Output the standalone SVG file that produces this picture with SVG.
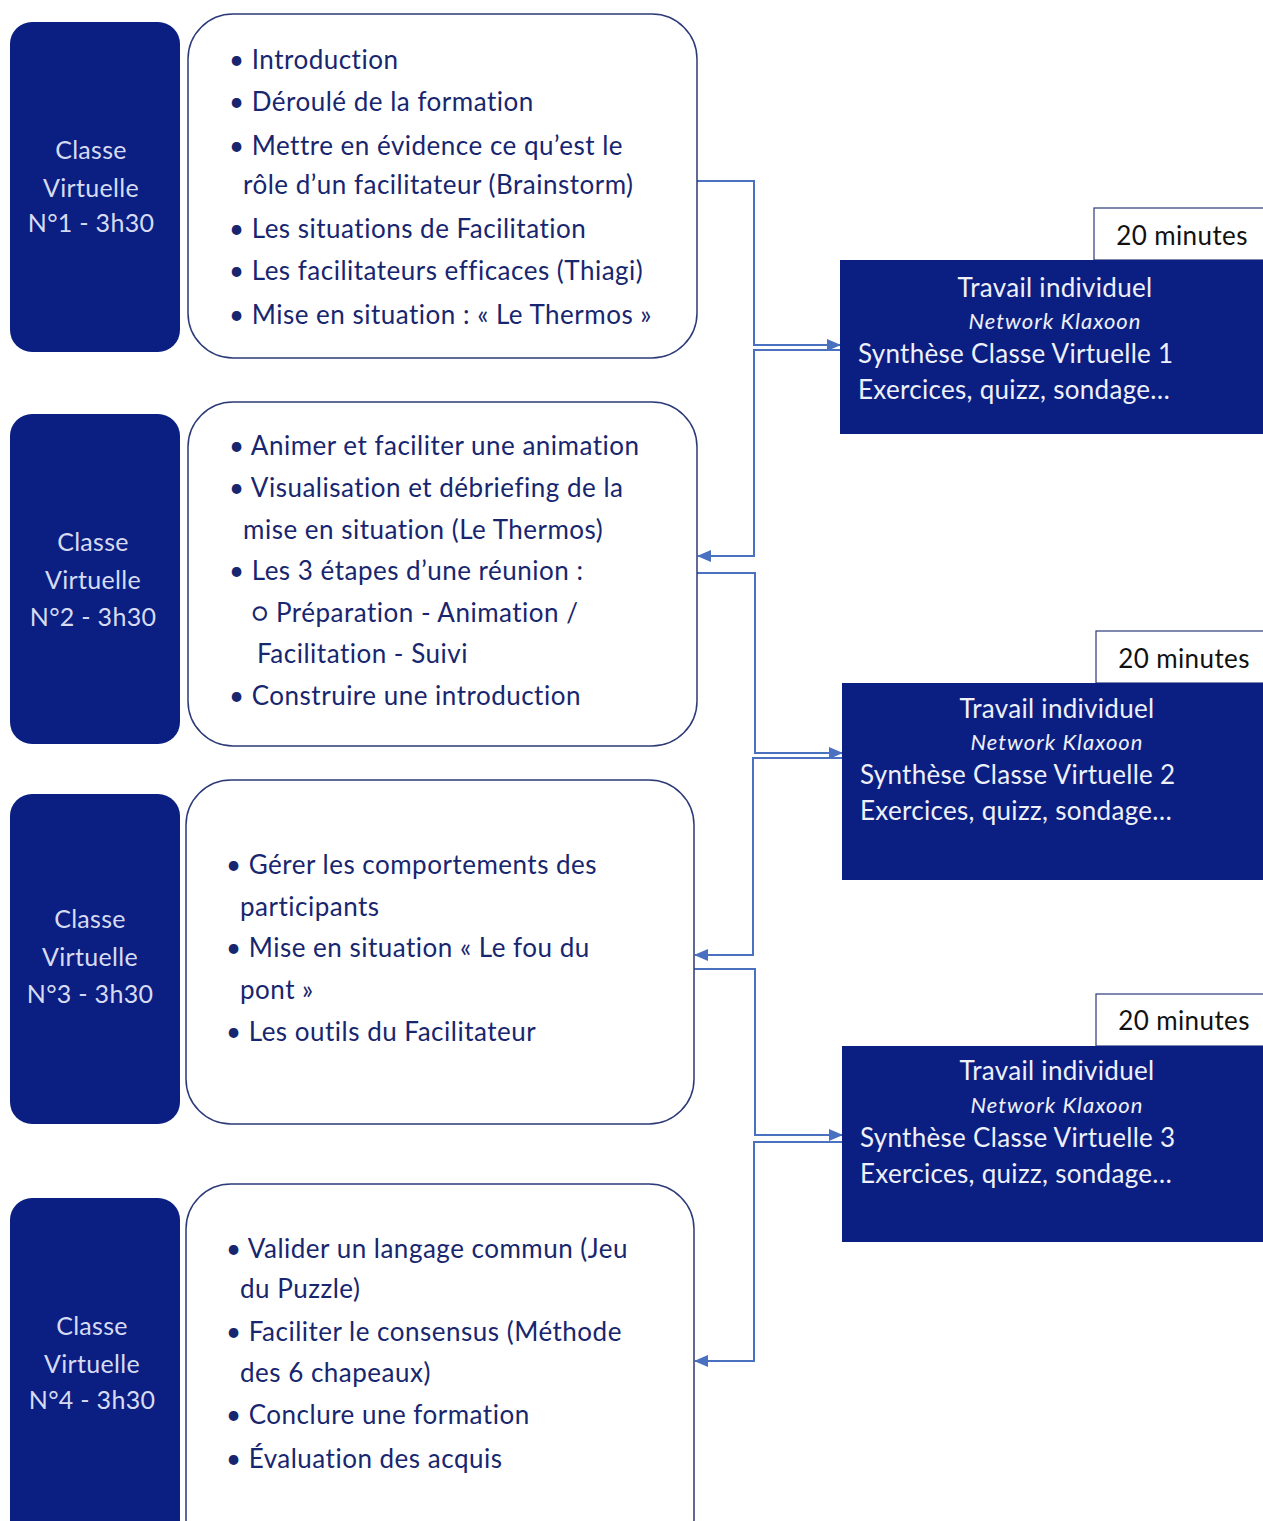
<svg xmlns="http://www.w3.org/2000/svg" width="1263" height="1521" viewBox="0 0 1263 1521">
<defs>
<style>
.dk{fill:#0b1f82;}
.wb{fill:#ffffff;stroke:#2c3a78;stroke-width:1.5;}
.lt{font-family:Lato,"Liberation Sans",sans-serif;font-size:25px;letter-spacing:0.3px;fill:#d6dbf2;text-anchor:middle;}
.bt{font-family:Lato,"Liberation Sans",sans-serif;font-size:26px;letter-spacing:0.5px;fill:#17266e;}
.rt{font-family:Lato,"Liberation Sans",sans-serif;font-size:26px;letter-spacing:0.3px;fill:#eef0fa;}
.it{font-family:Lato,"Liberation Sans",sans-serif;font-size:22px;letter-spacing:1px;font-style:italic;fill:#eef0fa;text-anchor:middle;}
.tab{fill:#ffffff;stroke:#2c3a78;stroke-width:1.2;}
.tt{font-family:Lato,"Liberation Sans",sans-serif;font-size:26px;letter-spacing:0.4px;fill:#111111;text-anchor:middle;}
.cn{fill:none;stroke:#4a70c0;stroke-width:2;}
</style>
<marker id="ah" viewBox="0 0 14 12" refX="13" refY="6" markerWidth="14" markerHeight="12" markerUnits="userSpaceOnUse" orient="auto">
<path d="M0,0 L14,6 L0,12 Z" fill="#4a70c0"/>
</marker>
</defs>
<rect width="1263" height="1521" fill="#ffffff"/>

<g id="connectors">
<path class="cn" d="M697,181 H754 V345 H840" marker-end="url(#ah)"/>
<path class="cn" d="M840,350 H754 V556 H698" marker-end="url(#ah)"/>
<path class="cn" d="M697,573 H755 V753 H842" marker-end="url(#ah)"/>
<path class="cn" d="M842,758 H753 V955 H695" marker-end="url(#ah)"/>
<path class="cn" d="M694,969 H755 V1135 H842" marker-end="url(#ah)"/>
<path class="cn" d="M842,1142 H754 V1361 H695" marker-end="url(#ah)"/>
</g>

<g id="cv1">
<rect class="dk" x="10" y="22" width="170" height="330" rx="22"/>
<text class="lt" x="91" y="159">Classe</text>
<text class="lt" x="91" y="197">Virtuelle</text>
<text class="lt" x="91" y="232">N°1 - 3h30</text>
</g>
<g id="content1">
<rect class="wb" x="188" y="14" width="509" height="344" rx="45"/>
<text class="bt" x="229" y="69">• Introduction</text>
<text class="bt" x="229" y="111">• Déroulé de la formation</text>
<text class="bt" x="229" y="155">• Mettre en évidence ce qu’est le</text>
<text class="bt" x="243" y="194">rôle d’un facilitateur (Brainstorm)</text>
<text class="bt" x="229" y="238">• Les situations de Facilitation</text>
<text class="bt" x="229" y="280">• Les facilitateurs efficaces (Thiagi)</text>
<text class="bt" x="229" y="324">• Mise en situation : « Le Thermos »</text>
</g>

<g id="cv2">
<rect class="dk" x="10" y="414" width="170" height="330" rx="22"/>
<text class="lt" x="93" y="551">Classe</text>
<text class="lt" x="93" y="589">Virtuelle</text>
<text class="lt" x="93" y="626">N°2 - 3h30</text>
</g>
<g id="content2">
<rect class="wb" x="188" y="402" width="509" height="344" rx="45"/>
<text class="bt" x="229" y="455">• Animer et faciliter une animation</text>
<text class="bt" x="229" y="497">• Visualisation et débriefing de la</text>
<text class="bt" x="243" y="539">mise en situation (Le Thermos)</text>
<text class="bt" x="229" y="580">• Les 3 étapes d’une réunion :</text>
<text class="bt" x="251" y="622">○ Préparation - Animation /</text>
<text class="bt" x="257" y="663">Facilitation - Suivi</text>
<text class="bt" x="229" y="705">• Construire une introduction</text>
</g>

<g id="cv3">
<rect class="dk" x="10" y="794" width="170" height="330" rx="22"/>
<text class="lt" x="90" y="928">Classe</text>
<text class="lt" x="90" y="966">Virtuelle</text>
<text class="lt" x="90" y="1003">N°3 - 3h30</text>
</g>
<g id="content3">
<rect class="wb" x="186" y="780" width="508" height="344" rx="45"/>
<text class="bt" x="226" y="874">• Gérer les comportements des</text>
<text class="bt" x="240" y="916">participants</text>
<text class="bt" x="226" y="957">• Mise en situation « Le fou du</text>
<text class="bt" x="240" y="999">pont »</text>
<text class="bt" x="226" y="1041">• Les outils du Facilitateur</text>
</g>

<g id="cv4">
<rect class="dk" x="10" y="1198" width="170" height="360" rx="22"/>
<text class="lt" x="92" y="1335">Classe</text>
<text class="lt" x="92" y="1373">Virtuelle</text>
<text class="lt" x="92" y="1409">N°4 - 3h30</text>
</g>
<g id="content4">
<rect class="wb" x="186" y="1184" width="508" height="380" rx="45"/>
<text class="bt" x="226" y="1258">• Valider un langage commun (Jeu</text>
<text class="bt" x="240" y="1298">du Puzzle)</text>
<text class="bt" x="226" y="1341">• Faciliter le consensus (Méthode</text>
<text class="bt" x="240" y="1382">des 6 chapeaux)</text>
<text class="bt" x="226" y="1424">• Conclure une formation</text>
<text class="bt" x="226" y="1468">• Évaluation des acquis</text>
</g>

<g id="travail1">
<rect class="tab" x="1094" y="208" width="175" height="52"/>
<text class="tt" x="1182" y="245">20 minutes</text>
<rect class="dk" x="840" y="260" width="430" height="174"/>
<text class="rt" x="1055" y="297" text-anchor="middle">Travail individuel</text>
<text class="it" x="1055" y="329">Network Klaxoon</text>
<text class="rt" x="858" y="363">Synthèse Classe Virtuelle 1</text>
<text class="rt" x="858" y="399">Exercices, quizz, sondage…</text>
</g>

<g id="travail2">
<rect class="tab" x="1096" y="631" width="175" height="52"/>
<text class="tt" x="1184" y="668">20 minutes</text>
<rect class="dk" x="842" y="683" width="430" height="197"/>
<text class="rt" x="1057" y="718" text-anchor="middle">Travail individuel</text>
<text class="it" x="1057" y="750">Network Klaxoon</text>
<text class="rt" x="860" y="784">Synthèse Classe Virtuelle 2</text>
<text class="rt" x="860" y="820">Exercices, quizz, sondage…</text>
</g>

<g id="travail3">
<rect class="tab" x="1096" y="994" width="175" height="52"/>
<text class="tt" x="1184" y="1030">20 minutes</text>
<rect class="dk" x="842" y="1046" width="430" height="196"/>
<text class="rt" x="1057" y="1080" text-anchor="middle">Travail individuel</text>
<text class="it" x="1057" y="1113">Network Klaxoon</text>
<text class="rt" x="860" y="1147">Synthèse Classe Virtuelle 3</text>
<text class="rt" x="860" y="1183">Exercices, quizz, sondage…</text>
</g>
</svg>
